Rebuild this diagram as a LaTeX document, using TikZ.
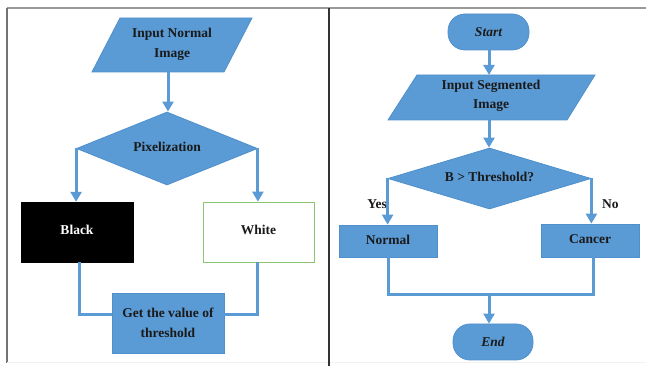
\documentclass[tikz,border=0pt]{standalone}
\usepackage{fontspec}
\setmainfont{Liberation Serif}
\usetikzlibrary{arrows.meta,shapes.geometric}
\definecolor{fillc}{HTML}{5B9BD5}
\definecolor{bordc}{HTML}{4F8FCC}
\definecolor{linec}{HTML}{5B9BD5}
\definecolor{greenb}{HTML}{8CC472}
\definecolor{txtc}{HTML}{1A1A1A}
\begin{document}
\begin{tikzpicture}[x=1pt,y=-1pt,
  font=\fontsize{13.5}{19.5}\selectfont\bfseries,
  text=txtc,
  box/.style={draw=bordc,fill=fillc,line width=0.8pt,inner sep=0pt,align=center},
  dia/.style={box,diamond},
  term/.style={box,rounded corners=17pt,font=\fontsize{13.5}{19.5}\selectfont\bfseries\itshape},
  txt/.style={inner sep=0pt,align=center},
  ln/.style={draw=linec,line width=3pt},
  arr/.style={ln,-{Triangle[width=11pt,length=10pt]}},
  frame/.style={line width=1.5pt}]
\useasboundingbox (0,0) rectangle (646,366);
% frame
\draw[frame,draw=gray!80] (7,8) -- (646,8);
\draw[frame,draw=gray!90!black] (7,8) -- (7,363);
\draw[line width=0.6pt,draw=gray!10] (7,362.5) -- (646,362.5);
\draw[line width=2pt,draw=black!80] (329,8) -- (329,366);

% ---------- left panel ----------
\path[box] (92,72) -- (224,72) -- (252,18) -- (120,18) -- cycle;
\node[txt] (inn) at (172,44.5) {Input Normal\\Image};
\coordinate (innb) at (168,72);
\node[dia,aspect=2.48,minimum width=181pt,minimum height=73pt] (pix) at (167,148.5) {\raisebox{3pt}{Pixelization}};
\node[draw=black,fill=black,inner sep=0pt,minimum width=112pt,minimum height=60pt,text=white] (blk) at (77,232) {\raisebox{5pt}{Black}};
\node[draw=greenb,fill=white,line width=0.8pt,inner sep=0pt,minimum width=111pt,minimum height=60pt] (wht) at (258.5,232) {\raisebox{5pt}{White}};
\node[box,minimum width=112pt,minimum height=60pt] (get) at (168,323) {Get the value of\\threshold};
\coordinate (jy) at (0,315);

\draw[arr] (innb) -- (innb |- pix.north);
\draw[arr] (pix.west) -- (pix.west |- blk.north);
\draw[arr] (pix.east) -- (pix.east |- wht.north);
\draw[ln] ([xshift=2pt]blk.south) |- (get.west |- jy);
\draw[ln] ([xshift=-1.5pt]wht.south) |- (get.east |- jy);

% ---------- right panel ----------
\node[term,minimum width=81pt,minimum height=36pt] (start) at (488.5,32) {Start};
\path[box] (388,120) -- (567,120) -- (595,75) -- (417,75) -- cycle;
\node[txt] (seg) at (491,96) {Input Segmented\\Image};
\coordinate (segt) at (489,75);
\coordinate (segb) at (489,120);
\node[dia,aspect=3.33,minimum width=203pt,minimum height=61pt] (thr) at (489.5,178.5) {\raisebox{4pt}{B > Threshold?}};
\node[box,minimum width=98pt,minimum height=32pt] (nor) at (388,241) {\raisebox{2pt}{Normal}};
\node[box,minimum width=98pt,minimum height=33pt] (can) at (590,240.5) {\raisebox{2pt}{Cancer}};
\node[txt,anchor=east] (yes) at (387,204) {Yes};
\node[txt,anchor=west] (no) at (602,204) {No};
\node[term,minimum width=80pt,minimum height=36pt] (end) at (493,342) {End};
\coordinate (jb) at (489,295);

\draw[arr] (start.south -| segt) -- (segt);
\draw[arr] (segb) -- (segb |- thr.north);
\draw[arr] (thr.west) -- (thr.west |- nor.north);
\draw[arr] (thr.east) -- (thr.east |- can.north);
\draw[ln] (nor.south) |- (jb) -| ([xshift=3pt]can.south);
\draw[arr] (jb) -- (jb |- end.north);
\end{tikzpicture}
\end{document}
